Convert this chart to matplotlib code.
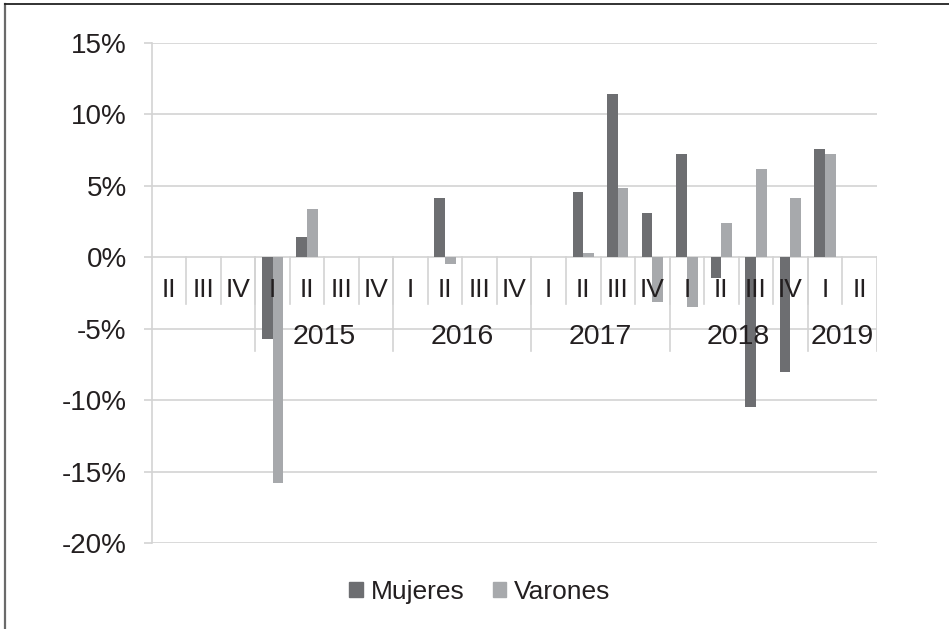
import numpy as np
import matplotlib
matplotlib.use("Agg")
import matplotlib.pyplot as plt
from matplotlib.lines import Line2D
from matplotlib.patches import Patch

plt.rcParams['font.family'] = ['Liberation Sans', 'DejaVu Sans']

# Quarterly variation (%) by sex
quarters = ["II", "III", "IV",
            "I", "II", "III", "IV",
            "I", "II", "III", "IV",
            "I", "II", "III", "IV",
            "I", "II", "III", "IV",
            "I", "II"]
year_labels = ["", "2015", "2016", "2017", "2018", "2019"]
year_sizes = [3, 4, 4, 4, 4, 2]

nan = np.nan
mujeres = [nan, nan, nan,
           -5.7, 1.4, nan, nan,
           nan, 4.15, nan, nan,
           nan, 4.6, 11.4, 3.1,
           7.25, -1.48, -10.5, -8.0,
           7.57, nan]
varones = [nan, nan, nan,
           -15.8, 3.35, nan, nan,
           nan, -0.5, nan, nan,
           nan, 0.28, 4.85, -3.15,
           -3.45, 2.37, 6.2, 4.15,
           7.25, nan]

c_muj = "#6d6e71"
c_var = "#a7a9ac"
c_grid = "#d3d3d3"
c_text = "#231f20"

fig = plt.figure(figsize=(9.49, 6.29), dpi=100)
ax = fig.add_axes([151.7 / 949, 1 - 543.3 / 629, 725 / 949, (543.3 - 42.8) / 629])

x = np.arange(len(quarters))
w = 0.31
ax.bar(x - w / 2, mujeres, width=w, color=c_muj, zorder=3, label="Mujeres")
ax.bar(x + w / 2, varones, width=w, color=c_var, zorder=3, label="Varones")

ax.set_xlim(-0.5, len(quarters) - 0.5)
ax.set_ylim(-20, 15)
ax.set_yticks(np.arange(-20, 16, 5))
ax.set_yticklabels([f"{v}%" for v in range(-20, 16, 5)])
ax.yaxis.grid(True, color=c_grid, linewidth=1.2, zorder=0)
ax.set_axisbelow(True)
ax.tick_params(axis="y", length=6, width=1.2, color=c_grid, pad=12,
               labelsize=20, labelcolor=c_text)
ax.set_xticks([])
for s in ["top", "right", "bottom"]:
    ax.spines[s].set_visible(False)
ax.spines["left"].set_color(c_grid)
ax.spines["left"].set_linewidth(1.2)

# Two-level category axis drawn at the zero line
q_y, q_sep = -2.3, -3.25
y_y, y_sep = -5.6, -6.55
for i, q in enumerate(quarters):
    ax.text(i, q_y, q, ha="center", va="center", fontsize=19,
            color=c_text, zorder=5)
for b in range(1, len(quarters)):
    ax.plot([b - 0.5, b - 0.5], [0, q_sep], color=c_grid, lw=1.2, zorder=2)

start = 0
bounds = [-0.5]
for lab, n in zip(year_labels, year_sizes):
    centre = start + (n - 1) / 2
    if lab:
        ax.text(centre, y_y, lab, ha="center", va="center", fontsize=20.5,
                color=c_text, zorder=5)
    start += n
    bounds.append(start - 0.5)
for b in bounds[1:]:
    ax.plot([b, b], [0, y_sep], color=c_grid, lw=1.2, zorder=2)

handles = [Patch(color=c_muj), Patch(color=c_var)]
fig.legend(handles, ["Mujeres", "Varones"], loc="center",
           bbox_to_anchor=(480 / 949, 1 - 592 / 629), ncol=2, frameon=False,
           fontsize=19, handlelength=0.5, handleheight=0.5,
           handletextpad=0.3, columnspacing=1.1, labelcolor=c_text)

# Outer frame edges
fig.add_artist(Line2D([4.5 / 949, 4.5 / 949], [0, 1 - 4 / 629],
                      transform=fig.transFigure, color="#6a6a6a", lw=1.6))
fig.add_artist(Line2D([4.5 / 949, 1], [1 - 4.3 / 629, 1 - 4.3 / 629],
                      transform=fig.transFigure, color="#222222", lw=1.3))

fig.savefig("out.png", dpi=100)
